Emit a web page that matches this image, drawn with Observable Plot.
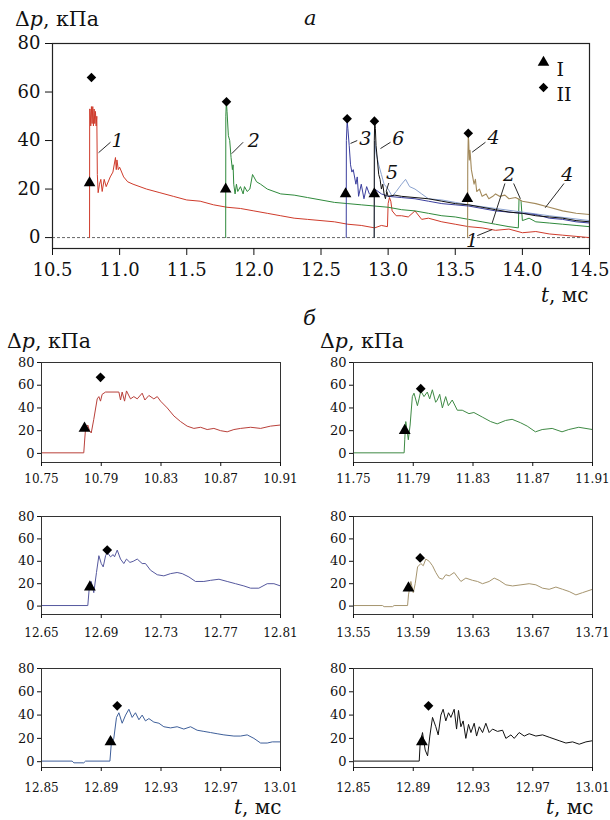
<!DOCTYPE html>
<html><head><meta charset="utf-8">
<script src="https://cdn.jsdelivr.net/npm/d3@7"></script>
<script src="https://cdn.jsdelivr.net/npm/@observablehq/plot@0.6"></script>
<style>
body{margin:0;background:#fff;}
#root{position:relative;width:610px;height:820px;font-family:"DejaVu Serif","Liberation Serif","Noto Serif",serif;color:#111;overflow:hidden;}
.abs{position:absolute;white-space:nowrap;line-height:1;}
.pl{position:absolute;}
</style></head><body><div id="root"></div>
<script>
// ---------- top panel (a) data ----------
const topXTicks = [10.5, 11.0, 11.5, 12.0, 12.5, 13.0, 13.5, 14.0, 14.5];
const topYTicks = [0, 20, 40, 60, 80];

const tr1T = [10.776,10.777,10.78,10.785,10.79,10.795,10.80,10.805,10.81,10.815,10.82,10.825,10.83,10.834,10.84,10.85,10.86,10.87,10.885,10.90,10.93,10.95,10.969,10.975,10.98,10.99,11.0,11.03,11.06,11.1,11.2,11.3,11.4,11.5,11.6,11.7,11.8,11.9,12.0,12.1,12.2,12.3,12.4,12.5,12.6,12.7,12.8,12.9,12.95,12.995,13.0,13.01,13.02,13.03,13.06,13.1,13.15,13.2,13.25,13.3,13.4,13.5,13.6,13.7,13.8,13.9,14.0,14.1,14.2,14.3,14.4,14.5];
const tr1P = [0,53,53,46,54,47,54,46,53,47,52,46,50,26,18.5,22,24,19,24,21,25,27,33,28,32,28,29,25,23,22,20,18.5,17,15.5,15,13.5,12.5,12,11,10,9,8,7.5,7,6.5,5.5,5,4,5,4.5,14,16.5,15,11,9,9,8.5,11,7.5,8,6.5,5.5,4.5,4,3,3.5,2,2.5,1.5,1,0.5,0];

const tr2T = [11.79,11.791,11.795,11.80,11.81,11.82,11.83,11.84,11.845,11.85,11.86,11.87,11.88,11.90,11.92,11.93,11.95,11.97,11.99,12.0,12.02,12.05,12.1,12.15,12.2,12.3,12.4,12.5,12.6,12.7,12.8,12.9,13.0,13.1,13.2,13.3,13.4,13.5,13.6,13.7,13.8,13.9,13.97,13.975,13.99,14.0,14.05,14.1,14.2,14.3,14.4,14.5];
const tr2P = [0,50,56,52,42,40,33,28,30,22,18,22,19,21,18,21,19,20,26,25,23,22,20,19,18,17.5,16.5,15.5,14.5,14,13.5,13,12.5,11.5,11,10,9,8.5,7.5,6.5,5.5,4.5,4,16,15,7,8,6.5,6,5.5,5,4.5];

const tr3T = [12.688,12.689,12.695,12.70,12.71,12.72,12.73,12.74,12.76,12.77,12.78,12.80,12.82,12.84,12.86,12.88,12.9,12.95,13.0,13.1,13.2,13.3,13.4,13.5,13.6,13.7,13.8,13.9,14.0,14.1,14.2,14.3,14.4,14.5];
const tr3P = [0,40,48,45,38,30,27,28,22,25,17,22,16,21,18,17,20,18,17,16.5,16,15,14,13.5,13,12,11,10.5,10,9.5,8,7.5,6.5,6];

const tr4T = [13.592,13.593,13.597,13.60,13.605,13.61,13.62,13.63,13.64,13.65,13.66,13.68,13.70,13.73,13.75,13.78,13.80,13.83,13.87,13.90,13.95,14.0,14.1,14.2,14.3,14.4,14.5];
const tr4P = [0,30,42,40,32,36,28,25,22,24,19,20,17,18,16,17,18,17,17.5,16,16.5,15,14,12.5,11,10,9.5];

const tr5T = [12.897,12.90,12.91,12.93,12.95,12.97,13.0,13.03,13.06,13.1,13.13,13.16,13.2,13.25,13.3,13.4,13.5,13.6,13.8,14.0,14.2,14.5];
const tr5P = [0,40,35,30,26,22,20,17,19,22,24,21,20,18,16,15.5,14.5,13.5,12,10.5,9,7];

const tr6T = [12.896,12.897,12.90,12.905,12.91,12.92,12.93,12.94,12.95,12.96,12.97,12.98,12.99,13.0,13.05,13.1,13.2,13.3,13.4,13.5,13.6,13.7,13.8,13.9,14.0,14.1,14.2,14.3,14.4,14.5];
const tr6P = [0,40,48,45,38,32,26,24,20,22,18,16,19,17,17.5,17,16.5,16,15,14,13.5,12.5,11.5,10.5,10,9,8.5,8,7,6.5];

// markers I (triangle) and II (diamond) in panel a
const topMarkIT = [10.776, 11.79, 12.683, 12.897, 13.59];
const topMarkIP = [22.5, 20, 18, 18, 16];
const topMarkIIT = [10.79, 11.796, 12.695, 12.898, 13.597];
const topMarkIIP = [66, 56, 49, 48, 43];

// curve number labels
const labText = ["1","2","3","6","4","5","2","4","1"];
const labT = [10.985, 12.0, 12.83, 13.075, 13.785, 13.03, 13.9, 14.335, 13.625];
const labP = [40, 40, 40.5, 40.5, 41, 26.5, 25.8, 25.8, -1.5];
// leader lines
const leadT1 = [10.932, 11.92, 12.72, 12.943, 13.626, 13.005, 13.87, 13.935, 14.31, 13.664];
const leadP1 = [39.3, 39.3, 38.8, 36.7, 35.2, 22.5, 22.3, 22.3, 22.3, 0.8];
const leadT2 = [10.843, 11.835, 12.77, 13.018, 13.725, 12.985, 13.775, 13.985, 14.17, 13.775];
const leadP2 = [35, 34.6, 40, 39.3, 39.3, 19, 6, 16, 12.3, 3.3];

const legendLabels = ["I", "II"];

// ---------- bottom panels (б) data ----------
const p1T = [10.75,10.7783,10.7788,10.7795,10.7810,10.7821,10.7833,10.7850,10.7873,10.7884,10.7895,10.7906,10.7929,10.8018,10.8029,10.8040,10.8056,10.8069,10.8096,10.8118,10.8141,10.8174,10.8192,10.8219,10.8252,10.8275,10.8297,10.8342,10.8386,10.8431,10.8475,10.8520,10.8565,10.8609,10.8654,10.8699,10.8743,10.8788,10.8833,10.8900,10.8967,10.9033,10.91];
const p1P = [0.5,0.5,10,22,25,20,18,30,48,50,46,52,54,54,47,54,46,55,48,50,48,53,47,51,48,50,46,40,33,28,24,22,23,21,22,20,19,21,22,23,22,24,25];

const p2T = [11.75,11.7839,11.7843,11.7850,11.7861,11.7867,11.7879,11.7894,11.7905,11.7928,11.7939,11.7950,11.7972,11.7994,11.8010,11.8028,11.8050,11.8061,11.8077,11.8095,11.8117,11.8135,11.8161,11.8195,11.8228,11.8273,11.8306,11.8362,11.8418,11.8462,11.8518,11.8562,11.8618,11.8663,11.8718,11.8763,11.8830,11.8896,11.8941,11.9008,11.91];
const p2P = [0.5,0.5,12,28,18,12,25,50,53,42,48,55,50,54,48,56,45,47,52,40,50,42,47,38,38,35,36,32,28,26,29,30,27,24,19,21,22,19,21,23,21];

const p3T = [12.65,12.6810,12.6819,12.6833,12.6850,12.6868,12.6884,12.6900,12.6913,12.6929,12.6940,12.6962,12.6980,12.6989,12.7007,12.7029,12.7051,12.7069,12.7092,12.7114,12.7141,12.7174,12.7196,12.7230,12.7275,12.7319,12.7364,12.7408,12.7442,12.7487,12.7531,12.7587,12.7632,12.7688,12.7743,12.7799,12.7855,12.7900,12.7955,12.8011,12.8056,12.81];
const p3P = [0.5,0.5,15,22,12,30,45,38,35,45,48,44,46,44,50,42,38,42,39,40,42,38,38,32,28,27,29,30,29,26,22,22,23,24,22,20,18,16,16,20,20,18];

const p4T = [13.55,13.5694,13.5705,13.5761,13.5772,13.5862,13.5868,13.5884,13.5900,13.5913,13.5929,13.5951,13.5967,13.5984,13.6007,13.6029,13.6051,13.6074,13.6096,13.6118,13.6141,13.6174,13.6196,13.6219,13.6252,13.6297,13.6330,13.6364,13.6408,13.6442,13.6475,13.6520,13.6565,13.6621,13.6676,13.6721,13.6766,13.6810,13.6855,13.6900,13.6944,13.6989,13.7033,13.71];
const p4P = [0.5,0.5,-0.5,-0.5,0.5,0.5,10,22,12,20,35,38,36,42,40,36,30,25,24,28,27,30,26,22,25,23,22,20,22,25,23,19,18,19,20,19,16,15,17,15,13,10,12,15];

const p5T = [12.85,12.8705,12.8717,12.8783,12.8795,12.8958,12.8967,12.8984,12.9002,12.9018,12.9040,12.9063,12.9085,12.9107,12.9129,12.9152,12.9174,12.9196,12.9219,12.9252,12.9286,12.9319,12.9364,12.9408,12.9453,12.9498,12.9542,12.9587,12.9632,12.9676,12.9721,12.9788,12.9833,12.9877,12.9922,12.9967,13.0011,13.0045,13.01];
const p5P = [0.5,0.5,-1,-1,0.5,0.5,15,20,38,42,33,40,45,38,42,36,40,35,37,34,33,30,29,30,28,30,27,26,25,24,23,22,22,23,20,16,16,17,17];

const p6T = [12.85,12.8940,12.8946,12.8962,12.8980,12.8996,12.9011,12.9029,12.9051,12.9067,12.9085,12.9100,12.9118,12.9136,12.9152,12.9174,12.9190,12.9203,12.9219,12.9234,12.9252,12.9270,12.9286,12.9308,12.9324,12.9342,12.9364,12.9386,12.9408,12.9431,12.9464,12.9498,12.9520,12.9554,12.9576,12.9609,12.9643,12.9676,12.9721,12.9766,12.9810,12.9877,12.9922,12.9967,13.0011,13.0056,13.01];
const p6P = [0.5,0.5,15,25,10,5,22,38,30,23,40,45,35,42,38,45,28,44,30,35,20,32,25,33,22,30,25,33,25,28,26,27,20,23,20,25,22,24,22,23,21,18,16,17,15,17,18];

const panelDomains = [[10.75,10.91],[11.75,11.91],[12.65,12.81],[13.55,13.71],[12.85,13.01],[12.85,13.01]];
const panelTicks = [
  [10.75,10.79,10.83,10.87,10.91],
  [11.75,11.79,11.83,11.87,11.91],
  [12.65,12.69,12.73,12.77,12.81],
  [13.55,13.59,13.63,13.67,13.71],
  [12.85,12.89,12.93,12.97,13.01],
  [12.85,12.89,12.93,12.97,13.01]];
const panelYTicks = [0, 20, 40, 60, 80];
const panelIT = [10.7788, 11.7843, 12.6824, 13.5868, 12.8962, 12.8958];
const panelIP = [22, 20, 17, 16, 17, 17];
const panelIIT = [10.7895, 11.795, 12.694, 13.5946, 12.9007, 12.9002];
const panelIIP = [67, 57, 50, 43, 48, 48];

// ---------- build ----------
const zip = (T, P) => T.map((t, i) => ({t, p: P[i]}));
const root = document.getElementById("root");
const FONT = "'DejaVu Serif', 'Liberation Serif', 'Noto Serif', serif";

function place(el, left, top) {
  const d = document.createElement("div");
  d.className = "pl"; d.style.left = left + "px"; d.style.top = top + "px";
  d.appendChild(el); root.appendChild(d);
}
function html(s, left, top, size, extra) {
  const d = document.createElement("div");
  d.className = "abs"; d.style.left = left + "px"; d.style.top = top + "px";
  d.style.fontSize = size + "px"; if (extra) d.style.cssText += extra;
  d.innerHTML = s; root.appendChild(d);
}

const col = {1:"#cf3b2b", 2:"#2f8a3c", 3:"#3b3f9e", 4:"#a38a5c", 5:"#8aa2cf", 6:"#111111"};

const labels = labText.map((s, i) => ({s, t: labT[i], p: labP[i]}));
const leaders = leadT1.map((t, i) => ({t1: t, p1: leadP1[i], t2: leadT2[i], p2: leadP2[i]}));

const topPlot = Plot.plot({
  width: 610, height: 290,
  marginLeft: 52, marginRight: 21, marginTop: 43, marginBottom: 42,
  x: {domain: [10.5, 14.5]},
  y: {domain: [-4.5, 80]},
  style: {fontFamily: FONT, fontSize: "18px", color: "#111", background: "transparent"},
  marks: [
    Plot.ruleY([0], {stroke: "#666", strokeWidth: 1, strokeDasharray: "3,2"}),
    Plot.line(zip(tr1T, tr1P), {x: "t", y: "p", stroke: col[1], strokeWidth: 1}),
    Plot.line(zip(tr2T, tr2P), {x: "t", y: "p", stroke: col[2], strokeWidth: 1}),
    Plot.line(zip(tr4T, tr4P), {x: "t", y: "p", stroke: col[4], strokeWidth: 1.1}),
    Plot.line(zip(tr5T, tr5P), {x: "t", y: "p", stroke: col[5], strokeWidth: 1}),
    Plot.line(zip(tr3T, tr3P), {x: "t", y: "p", stroke: col[3], strokeWidth: 1}),
    Plot.line(zip(tr6T, tr6P), {x: "t", y: "p", stroke: col[6], strokeWidth: 1}),
    Plot.link(leaders, {x1: "t1", y1: "p1", x2: "t2", y2: "p2", stroke: "#111", strokeWidth: 0.9}),
    Plot.text(labels, {x: "t", y: "p", text: "s", fontStyle: "italic", fontSize: 19, fill: "#111"}),
    Plot.dot(zip(topMarkIT, topMarkIP), {x: "t", y: "p", symbol: "triangle", r: 4.3, fill: "#000", stroke: "none"}),
    Plot.dot(zip(topMarkIIT, topMarkIIP), {x: "t", y: "p", symbol: "diamond2", r: 4.3, fill: "#000", stroke: "none"}),
    Plot.dot([legendLabels[0]], {frameAnchor: "top-right", dx: -46, dy: 19, symbol: "triangle", r: 4.3, fill: "#000", stroke: "none"}),
    Plot.dot([legendLabels[1]], {frameAnchor: "top-right", dx: -46, dy: 44, symbol: "diamond2", r: 4.3, fill: "#000", stroke: "none"}),
    Plot.text([legendLabels[0]], {frameAnchor: "top-right", dx: -33, dy: 19, text: d => d, textAnchor: "start", fontSize: 19}),
    Plot.text([legendLabels[1]], {frameAnchor: "top-right", dx: -33, dy: 44, text: d => d, textAnchor: "start", fontSize: 19}),
    Plot.frame({stroke: "#222", strokeWidth: 1.2}),
    Plot.axisX({ticks: topXTicks, tickFormat: d3.format(".1f"), tickSize: 7, tickPadding: 8, label: null, fontSize: 18}),
    Plot.axisY({ticks: topYTicks, tickSize: 7, tickPadding: 5, label: null, fontSize: 18})
  ]
});
place(topPlot, 0, 0);

const panelData = [[p1T,p1P],[p2T,p2P],[p3T,p3P],[p4T,p4P],[p5T,p5P],[p6T,p6P]];
const panelColors = ["#b9403a", "#3f8a45", "#55589e", "#a6956f", "#3e5f9a", "#111111"];
const rowTop = [352, 506, 658];
const rowYMin = [-8, -7.5, -5];
const rowFrameH = [100, 98, 99];
const rowPad = [8, 10, 12];

panelData.forEach(([T, P], k) => {
  const row = Math.floor(k / 2), right = k % 2 === 1;
  const ml = right ? 48 : 41, mr = right ? 18 : 25;
  const pl = Plot.plot({
    width: 305, height: 10 + rowFrameH[row] + 32,
    marginLeft: ml, marginRight: mr, marginTop: 10, marginBottom: 32,
    x: {domain: panelDomains[k]},
    y: {domain: [rowYMin[row], 80]},
    style: {fontFamily: FONT, fontSize: "13px", color: "#111", background: "transparent", overflow: "visible"},
    marks: [
      Plot.line(zip(T, P), {x: "t", y: "p", stroke: panelColors[k], strokeWidth: 1}),
      Plot.dot([{t: panelIT[k], p: panelIP[k]}], {x: "t", y: "p", symbol: "triangle", r: 4.4, fill: "#000", stroke: "none"}),
      Plot.dot([{t: panelIIT[k], p: panelIIP[k]}], {x: "t", y: "p", symbol: "diamond2", r: 4.4, fill: "#000", stroke: "none"}),
      Plot.frame({stroke: "#333", strokeWidth: 1}),
      Plot.axisX({ticks: panelTicks[k], tickFormat: d3.format(".2f"), tickSize: 4, tickPadding: rowPad[row], label: null, fontSize: 12}),
      Plot.axisY({ticks: panelYTicks, tickSize: 4, tickPadding: 3, label: null, fontSize: 13})
    ]
  });
  place(pl, right ? 305 : 0, rowTop[row]);
});

// titles / axis names
const dp = "&Delta;<i>p</i>, кПа";
html(dp, 15, 9, 20.5);
html("<i>a</i>", 304, 8, 21);
html("<i>t</i>, мс", 541, 285, 20);
html("<i>б</i>", 303, 308, 21);
html(dp, 7, 331, 20.5);
html(dp, 320, 331, 20.5);
html("<i>t</i>, мс", 234, 797, 20);
html("<i>t</i>, мс", 546, 797, 20);
</script></body></html>
